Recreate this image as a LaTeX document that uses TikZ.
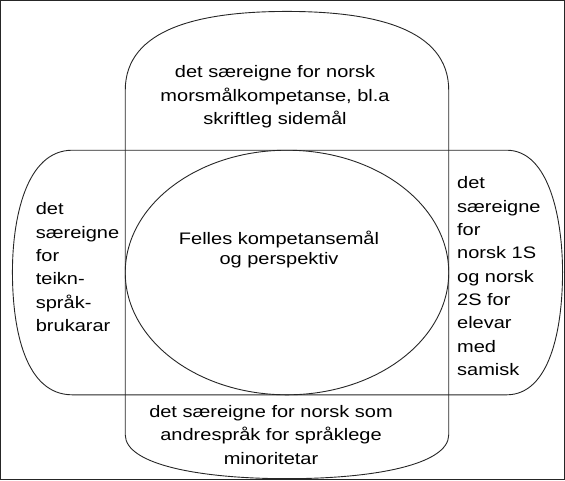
\documentclass[tikz,border=0pt]{standalone}
\usepackage{fontspec}
\setmainfont[FakeStretch=1.2]{Liberation Sans}
\usetikzlibrary{positioning}

\begin{document}
\begin{tikzpicture}[x=1pt,y=-1pt]
        \tikzstyle{every path}=[line width=0.9pt,draw=black!85]
        \tikzstyle{txt}=[inner sep=0pt,font=\fontsize{16.7}{23.5}\selectfont]
        \tikzstyle{mid}=[txt,align=center,anchor=north]
        \tikzstyle{side}=[txt,align=left,anchor=north west]

        \useasboundingbox (0,0) rectangle (565,480);

        %the upright shape
        \draw (125,435) -- (125,90)
              .. controls (125,28) and (200,11) .. (287,11)
              .. controls (374,11) and (449,28) .. (449,90)
              -- (449,435)
              .. controls (449,465) and (374,479) .. (287,479)
              .. controls (200,479) and (125,465) .. (125,435) -- cycle;

        %the lying shape
        \draw (72,150) -- (507,150)
              .. controls (550,150) and (563,220) .. (563,272)
              .. controls (563,330) and (550,395) .. (507,395)
              -- (72,395)
              .. controls (25,395) and (12,330) .. (12,272)
              .. controls (12,220) and (25,150) .. (72,150) -- cycle;

        %the common part
        \draw (287,272.5) ellipse [x radius=162pt,y radius=122.5pt];

        \node [mid] (topTxt) at (275,65)
            {det særeigne for norsk\\morsmålkompetanse, bl.a\\skriftleg sidemål};
        \node [mid,font=\fontsize{16.7}{20}\selectfont] (midTxt) at (279,231)
            {Felles kompetansemål\\og perspektiv};
        \node [mid] (bottomTxt) at (271,405)
            {det særeigne for norsk som\\andrespråk for språklege\\minoritetar};
        \node [side,font=\fontsize{16.7}{23.4}\selectfont] (leftTxt) at (35,202)
            {det\\særeigne\\for\\teikn-\\språk-\\brukarar};
        \node [side,font=\fontsize{16.7}{23.4}\selectfont] (rightTxt) at (457,176)
            {det\\særeigne\\for\\norsk 1S\\og norsk\\2S for\\elevar\\med\\samisk};
\end{tikzpicture}
\end{document}
